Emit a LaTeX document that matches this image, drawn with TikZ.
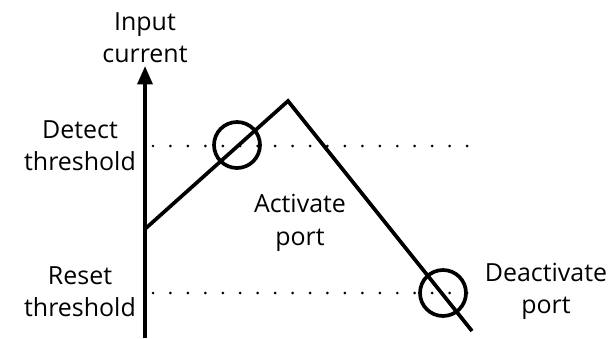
\documentclass[tikz,border=0pt]{standalone}
\usepackage{fontspec}
\setmainfont{Open Sans}
\usetikzlibrary{positioning,arrows.meta}

\begin{document}
\begin{tikzpicture}[x=0.02cm,y=-0.02cm,font=\fontsize{14.2}{18.4}\selectfont,label/.style={align=center,inner sep=0pt},curve/.style={line width=2.1pt,line join=miter},thresh/.style={line width=1.7pt,line cap=round,dash pattern=on 0pt off 9.93pt},ring/.style={circle,draw,line width=2.1pt,minimum size=0.92cm,inner sep=0pt}]
\useasboundingbox (0,0) rectangle (611,338);
\coordinate (base) at (145,338);
\coordinate (tip) at (145,66);
\coordinate (start) at (145,229);
\coordinate (peak) at (288,101);
\coordinate (stop) at (472,331);
\coordinate (detectL) at (153,146);
\coordinate (detectR) at (468,146);
\coordinate (resetL) at (153,293);
\coordinate (resetR) at (468,293);
\node[label] (ylabel) at (145,38) {Input\\current};
\node[label] (detect) at (80,146) {Detect\\threshold};
\node[label] (reset) at (80,292) {Reset\\threshold};
\node[label] (activate) at (300,223) {Activate\\port};
\node[label] (deactivate) at (546,291) {Deactivate\\port};
\draw[thresh] (detectL) -- (detectR);
\draw[thresh] (resetL) -- (resetR);
\draw[line width=2.1pt,-{Triangle[length=10.5pt,width=8.5pt]}] (base) -- (tip);
\draw[curve] (start) -- (peak) -- (stop);
\node[ring] (on) at (237,145) {};
\node[ring] (off) at (443,293) {};
\end{tikzpicture}
\end{document}
